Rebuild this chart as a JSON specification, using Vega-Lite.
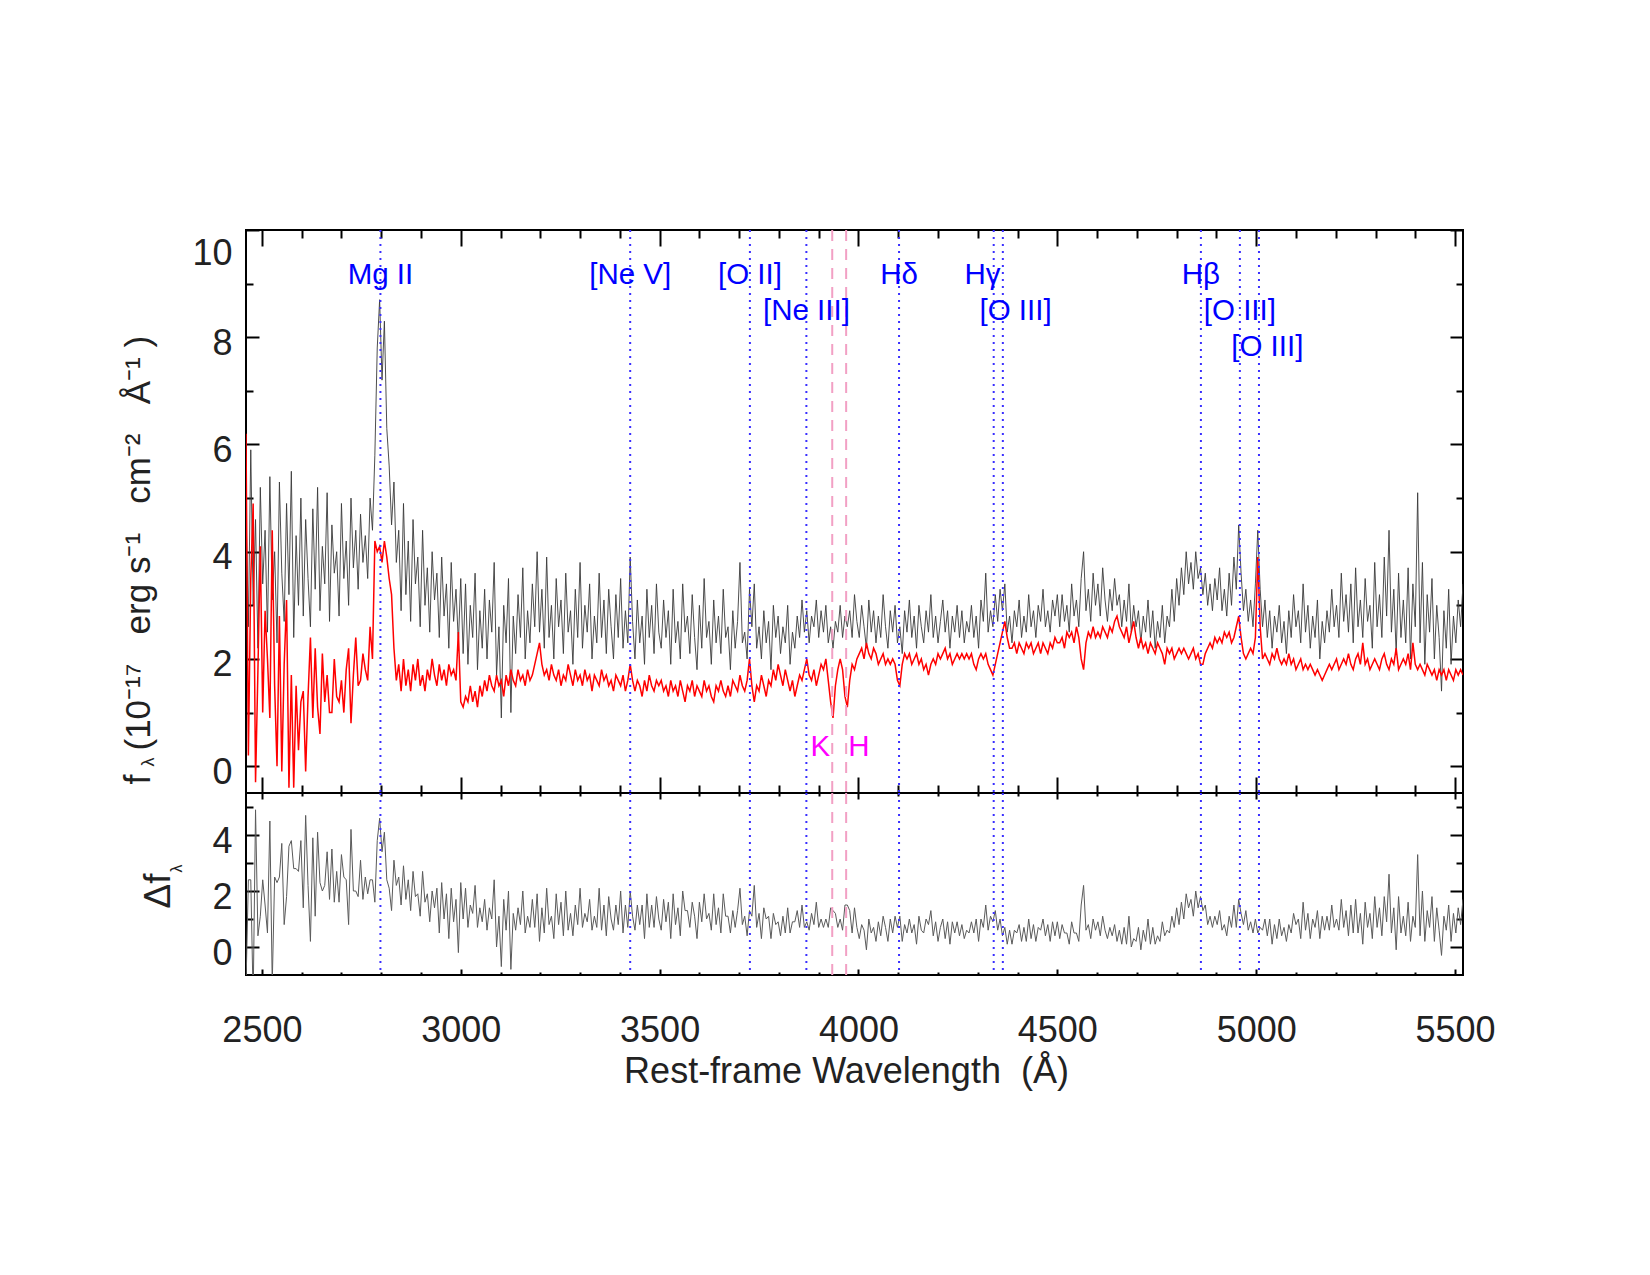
{
"$schema": "https://vega.github.io/schema/vega-lite/v6.json",
"autosize": {"type": "none"},
"padding": {"left": 246, "top": 230, "right": 187, "bottom": 1045},
"bounds": "flush",
"spacing": 0,
"background": "white",
"config": {
 "font": "Liberation Sans",
 "view": {"stroke": "#000", "strokeWidth": 2},
 "concat": {"spacing": 0},
 "axis": {"domain": false, "grid": false, "tickColor": "#000", "tickWidth": 2, "labelFont": "Liberation Sans", "labelFontSize": 36, "labelColor": "#222", "titleFont": "Liberation Sans", "titleFontWeight": "normal", "titleColor": "#222", "labelOverlap": false, "labelBound": false, "labelFlush": false, "format": "d"}
},
"datasets": {
"lines": [
{"n":"Mg II","w":2798,"lx":2798,"ly":8.99},
{"n":"[Ne V]","w":3426,"lx":3426,"ly":8.99},
{"n":"[O II]","w":3727,"lx":3727,"ly":8.99},
{"n":"[Ne III]","w":3869,"lx":3869,"ly":8.32},
{"n":"Hδ","w":4102,"lx":4102,"ly":8.99},
{"n":"Hγ","w":4340,"lx":4312,"ly":8.99},
{"n":"[O III]","w":4363,"lx":4395,"ly":8.32},
{"n":"Hβ","w":4861,"lx":4861,"ly":8.99},
{"n":"[O III]","w":4959,"lx":4959,"ly":8.32},
{"n":"[O III]","w":5007,"lx":5028,"ly":7.655}
],
"kh": [{"n":"K","w":3934,"ly":0.19},{"n":"H","w":3969,"ly":0.19}],
"spec": [
{"w":2460,"f":4.8,"m":6.2,"r":-1.4},{"w":2466,"f":2.6,"m":0.2,"r":2.4},{"w":2472,"f":5.9,"m":3.5,"r":2.4},{"w":2478,"f":3.0,"m":4.9,"r":-1.9},{"w":2484,"f":4.6,"m":-0.3,"r":4.9},{"w":2490,"f":2.2,"m":1.8,"r":0.4},{"w":2496,"f":5.2,"m":4.1,"r":1.1},{"w":2502,"f":3.4,"m":1.0,"r":2.4},{"w":2508,"f":4.4,"m":2.9,"r":1.5},{"w":2514,"f":2.5,"m":2.0,"r":0.5},
{"w":2520,"f":5.4,"m":0.9,"r":4.5},{"w":2526,"f":3.1,"m":4.4,"r":-1.3},{"w":2532,"f":4.0,"m":1.5,"r":2.5},{"w":2538,"f":2.3,"m":0.0,"r":2.3},{"w":2544,"f":5.3,"m":2.8,"r":2.5},{"w":2550,"f":3.6,"m":-0.1,"r":3.7},{"w":2556,"f":2.7,"m":1.9,"r":0.8},{"w":2562,"f":4.9,"m":3.1,"r":1.8},{"w":2568,"f":3.2,"m":-0.4,"r":3.6},{"w":2574,"f":5.5,"m":1.7,"r":3.8},
{"w":2580,"f":2.4,"m":-0.4,"r":2.8},{"w":2586,"f":4.3,"m":1.5,"r":2.8},{"w":2592,"f":3.0,"m":0.3,"r":2.7},{"w":2598,"f":5.0,"m":1.2,"r":3.8},{"w":2604,"f":2.8,"m":1.4,"r":1.4},{"w":2610,"f":4.6,"m":-0.1,"r":4.7},{"w":2616,"f":3.5,"m":1.3,"r":2.2},{"w":2622,"f":2.6,"m":2.4,"r":0.2},{"w":2628,"f":4.8,"m":0.9,"r":3.9},{"w":2634,"f":3.3,"m":2.2,"r":1.1},
{"w":2640,"f":5.2,"m":1.1,"r":4.1},{"w":2646,"f":2.9,"m":0.6,"r":2.3},{"w":2652,"f":4.1,"m":2.1,"r":2.0},{"w":2658,"f":3.4,"m":1.2,"r":2.2},{"w":2664,"f":5.1,"m":1.7,"r":3.4},{"w":2670,"f":2.7,"m":1.0,"r":1.7},{"w":2676,"f":4.5,"m":1.0,"r":3.5},{"w":2682,"f":3.6,"m":2.0,"r":1.6},{"w":2688,"f":4.0,"m":1.3,"r":2.7},{"w":2694,"f":2.8,"m":1.2,"r":1.6},
{"w":2700,"f":4.9,"m":1.6,"r":3.3},{"w":2706,"f":3.5,"m":1.0,"r":2.5},{"w":2712,"f":4.2,"m":1.8,"r":2.4},{"w":2718,"f":3.0,"m":2.2,"r":0.8},{"w":2724,"f":5.0,"m":0.8,"r":4.2},{"w":2730,"f":3.7,"m":1.7,"r":2.0},{"w":2736,"f":4.4,"m":2.4,"r":2.0},{"w":2742,"f":3.3,"m":1.5,"r":1.8},{"w":2748,"f":4.7,"m":1.6,"r":3.1},{"w":2754,"f":3.8,"m":2.1,"r":1.7},
{"w":2760,"f":4.3,"m":1.8,"r":2.5},{"w":2766,"f":3.5,"m":1.6,"r":1.9},{"w":2772,"f":5.0,"m":2.6,"r":2.4},{"w":2778,"f":4.4,"m":2.0,"r":2.4},{"w":2784,"f":5.8,"m":4.2,"r":1.6},{"w":2790,"f":7.8,"m":4.0,"r":3.8},{"w":2796,"f":8.7,"m":4.1,"r":4.6},{"w":2802,"f":7.2,"m":3.8,"r":3.4},{"w":2808,"f":8.3,"m":4.2,"r":4.1},{"w":2814,"f":6.3,"m":3.9,"r":2.4},
{"w":2820,"f":5.6,"m":3.5,"r":2.1},{"w":2826,"f":4.5,"m":3.2,"r":1.3},{"w":2832,"f":5.3,"m":2.2,"r":3.1},{"w":2838,"f":3.8,"m":1.6,"r":2.2},{"w":2844,"f":4.4,"m":1.9,"r":2.5},{"w":2850,"f":2.9,"m":1.4,"r":1.5},{"w":2856,"f":4.9,"m":2.0,"r":2.9},{"w":2862,"f":3.2,"m":1.5,"r":1.7},{"w":2868,"f":4.2,"m":1.8,"r":2.4},{"w":2874,"f":2.7,"m":1.4,"r":1.3},
{"w":2880,"f":4.6,"m":1.9,"r":2.7},{"w":2886,"f":3.4,"m":1.6,"r":1.8},{"w":2892,"f":3.9,"m":2.0,"r":1.9},{"w":2898,"f":2.6,"m":1.5,"r":1.1},{"w":2904,"f":4.4,"m":1.7,"r":2.7},{"w":2910,"f":3.0,"m":1.4,"r":1.6},{"w":2916,"f":3.7,"m":1.8,"r":1.9},{"w":2922,"f":2.5,"m":1.6,"r":0.9},{"w":2928,"f":4.0,"m":2.0,"r":2.0},{"w":2934,"f":3.1,"m":1.7,"r":1.4},
{"w":2940,"f":3.6,"m":1.5,"r":2.1},{"w":2946,"f":2.4,"m":1.9,"r":0.5},{"w":2952,"f":3.9,"m":1.6,"r":2.3},{"w":2958,"f":2.8,"m":1.8,"r":1.0},{"w":2964,"f":3.4,"m":1.5,"r":1.9},{"w":2970,"f":2.2,"m":1.9,"r":0.3},{"w":2976,"f":3.8,"m":1.7,"r":2.1},{"w":2982,"f":2.7,"m":1.8,"r":0.9},{"w":2988,"f":3.3,"m":1.6,"r":1.7},{"w":2994,"f":2.3,"m":2.5,"r":-0.2},
{"w":3000,"f":3.5,"m":1.2,"r":2.3},{"w":3006,"f":2.1,"m":1.1,"r":1.0},{"w":3012,"f":3.4,"m":1.3,"r":2.1},{"w":3018,"f":1.9,"m":1.2,"r":0.7},{"w":3024,"f":3.0,"m":1.5,"r":1.5},{"w":3030,"f":2.4,"m":1.2,"r":1.2},{"w":3036,"f":3.6,"m":1.4,"r":2.2},{"w":3042,"f":1.8,"m":1.1,"r":0.7},{"w":3048,"f":2.9,"m":1.5,"r":1.4},{"w":3054,"f":2.2,"m":1.3,"r":0.9},
{"w":3060,"f":3.3,"m":1.6,"r":1.7},{"w":3066,"f":2.0,"m":1.4,"r":0.6},{"w":3072,"f":3.1,"m":1.7,"r":1.4},{"w":3078,"f":2.5,"m":1.5,"r":1.0},{"w":3084,"f":3.8,"m":1.4,"r":2.4},{"w":3090,"f":1.7,"m":1.7,"r":0.0},{"w":3096,"f":2.6,"m":1.5,"r":1.1},{"w":3102,"f":0.9,"m":1.6,"r":-0.7},{"w":3108,"f":3.0,"m":1.3,"r":1.7},{"w":3114,"f":2.3,"m":1.7,"r":0.6},
{"w":3120,"f":3.5,"m":1.5,"r":2.0},{"w":3126,"f":1.0,"m":1.8,"r":-0.8},{"w":3132,"f":2.8,"m":1.6,"r":1.2},{"w":3138,"f":2.1,"m":1.5,"r":0.6},{"w":3144,"f":3.2,"m":1.8,"r":1.4},{"w":3150,"f":2.4,"m":1.6,"r":0.8},{"w":3156,"f":3.7,"m":1.7,"r":2.0},{"w":3162,"f":2.0,"m":1.5,"r":0.5},{"w":3168,"f":2.9,"m":1.8,"r":1.1},{"w":3174,"f":2.3,"m":1.6,"r":0.7},
{"w":3180,"f":3.4,"m":1.7,"r":1.7},{"w":3186,"f":2.6,"m":1.9,"r":0.7},{"w":3192,"f":4.0,"m":2.1,"r":1.9},{"w":3198,"f":2.5,"m":2.3,"r":0.2},{"w":3204,"f":3.3,"m":1.9,"r":1.4},{"w":3210,"f":2.2,"m":1.7,"r":0.5},{"w":3216,"f":3.9,"m":1.8,"r":2.1},{"w":3222,"f":2.4,"m":1.6,"r":0.8},{"w":3228,"f":3.0,"m":1.9,"r":1.1},{"w":3234,"f":2.0,"m":1.7,"r":0.3},
{"w":3240,"f":3.5,"m":1.6,"r":1.9},{"w":3246,"f":2.6,"m":1.8,"r":0.8},{"w":3252,"f":3.1,"m":1.5,"r":1.6},{"w":3258,"f":2.1,"m":1.7,"r":0.4},{"w":3264,"f":3.6,"m":1.6,"r":2.0},{"w":3270,"f":2.5,"m":1.9,"r":0.6},{"w":3276,"f":2.9,"m":1.7,"r":1.2},{"w":3282,"f":1.9,"m":1.5,"r":0.4},{"w":3288,"f":3.3,"m":1.8,"r":1.5},{"w":3294,"f":2.4,"m":1.6,"r":0.8},
{"w":3300,"f":3.8,"m":1.7,"r":2.1},{"w":3306,"f":2.2,"m":1.5,"r":0.7},{"w":3312,"f":3.0,"m":1.8,"r":1.2},{"w":3318,"f":2.5,"m":1.6,"r":0.9},{"w":3324,"f":3.4,"m":1.7,"r":1.7},{"w":3330,"f":2.0,"m":1.4,"r":0.6},{"w":3336,"f":2.8,"m":1.7,"r":1.1},{"w":3342,"f":2.3,"m":1.6,"r":0.7},{"w":3348,"f":3.6,"m":1.5,"r":2.1},{"w":3354,"f":2.4,"m":1.8,"r":0.6},
{"w":3360,"f":3.1,"m":1.6,"r":1.5},{"w":3366,"f":2.1,"m":1.7,"r":0.4},{"w":3372,"f":3.3,"m":1.5,"r":1.8},{"w":3378,"f":2.6,"m":1.6,"r":1.0},{"w":3384,"f":2.0,"m":1.4,"r":0.6},{"w":3390,"f":3.2,"m":1.7,"r":1.5},{"w":3396,"f":2.4,"m":1.6,"r":0.8},{"w":3402,"f":3.5,"m":1.5,"r":2.0},{"w":3408,"f":2.2,"m":1.7,"r":0.5},{"w":3414,"f":2.9,"m":1.4,"r":1.5},
{"w":3420,"f":2.3,"m":1.6,"r":0.7},{"w":3426,"f":3.9,"m":1.9,"r":2.0},{"w":3432,"f":2.7,"m":1.6,"r":1.1},{"w":3438,"f":2.0,"m":1.4,"r":0.6},{"w":3444,"f":3.1,"m":1.6,"r":1.5},{"w":3450,"f":2.3,"m":1.5,"r":0.8},{"w":3456,"f":2.8,"m":1.3,"r":1.5},{"w":3462,"f":1.9,"m":1.6,"r":0.3},{"w":3468,"f":3.3,"m":1.4,"r":1.9},{"w":3474,"f":2.4,"m":1.7,"r":0.7},
{"w":3480,"f":3.0,"m":1.5,"r":1.5},{"w":3486,"f":2.1,"m":1.4,"r":0.7},{"w":3492,"f":3.4,"m":1.6,"r":1.8},{"w":3498,"f":2.5,"m":1.5,"r":1.0},{"w":3504,"f":2.2,"m":1.6,"r":0.6},{"w":3510,"f":3.1,"m":1.4,"r":1.7},{"w":3516,"f":2.4,"m":1.5,"r":0.9},{"w":3522,"f":2.9,"m":1.3,"r":1.6},{"w":3528,"f":1.9,"m":1.6,"r":0.3},{"w":3534,"f":3.3,"m":1.4,"r":1.9},
{"w":3540,"f":2.3,"m":1.5,"r":0.8},{"w":3546,"f":2.7,"m":1.3,"r":1.4},{"w":3552,"f":2.0,"m":1.6,"r":0.4},{"w":3558,"f":3.4,"m":1.4,"r":2.0},{"w":3564,"f":2.5,"m":1.2,"r":1.3},{"w":3570,"f":2.8,"m":1.5,"r":1.3},{"w":3576,"f":2.1,"m":1.4,"r":0.7},{"w":3582,"f":3.2,"m":1.6,"r":1.6},{"w":3588,"f":2.4,"m":1.3,"r":1.1},{"w":3594,"f":1.8,"m":1.5,"r":0.3},
{"w":3600,"f":3.0,"m":1.4,"r":1.6},{"w":3606,"f":2.2,"m":1.3,"r":0.9},{"w":3612,"f":3.5,"m":1.6,"r":1.9},{"w":3618,"f":2.4,"m":1.4,"r":1.0},{"w":3624,"f":2.7,"m":1.5,"r":1.2},{"w":3630,"f":1.9,"m":1.3,"r":0.6},{"w":3636,"f":3.1,"m":1.2,"r":1.9},{"w":3642,"f":2.3,"m":1.5,"r":0.8},{"w":3648,"f":2.8,"m":1.4,"r":1.4},{"w":3654,"f":2.1,"m":1.6,"r":0.5},
{"w":3660,"f":3.3,"m":1.4,"r":1.9},{"w":3666,"f":2.4,"m":1.3,"r":1.1},{"w":3672,"f":2.6,"m":1.5,"r":1.1},{"w":3678,"f":1.8,"m":1.3,"r":0.5},{"w":3684,"f":2.9,"m":1.6,"r":1.3},{"w":3690,"f":2.2,"m":1.5,"r":0.7},{"w":3696,"f":2.7,"m":1.4,"r":1.3},{"w":3702,"f":3.8,"m":1.7,"r":2.1},{"w":3708,"f":2.3,"m":1.5,"r":0.8},{"w":3714,"f":2.5,"m":1.4,"r":1.1},
{"w":3720,"f":2.0,"m":1.6,"r":0.4},{"w":3726,"f":3.3,"m":2.0,"r":1.3},{"w":3732,"f":2.6,"m":1.5,"r":1.1},{"w":3738,"f":3.4,"m":1.2,"r":2.2},{"w":3744,"f":2.2,"m":1.5,"r":0.7},{"w":3750,"f":2.6,"m":1.4,"r":1.2},{"w":3756,"f":2.0,"m":1.7,"r":0.3},{"w":3762,"f":2.9,"m":1.5,"r":1.4},{"w":3768,"f":2.3,"m":1.3,"r":1.0},{"w":3774,"f":2.7,"m":1.6,"r":1.1},
{"w":3780,"f":1.8,"m":1.5,"r":0.3},{"w":3786,"f":3.0,"m":1.8,"r":1.2},{"w":3792,"f":2.4,"m":1.6,"r":0.8},{"w":3798,"f":2.8,"m":1.9,"r":0.9},{"w":3804,"f":2.1,"m":1.7,"r":0.4},{"w":3810,"f":2.6,"m":1.5,"r":1.1},{"w":3816,"f":2.3,"m":1.8,"r":0.5},{"w":3822,"f":3.0,"m":1.6,"r":1.4},{"w":3828,"f":1.9,"m":1.4,"r":0.5},{"w":3834,"f":2.5,"m":1.6,"r":0.9},
{"w":3840,"f":2.2,"m":1.3,"r":0.9},{"w":3846,"f":2.8,"m":1.5,"r":1.3},{"w":3852,"f":2.4,"m":1.7,"r":0.7},{"w":3858,"f":3.1,"m":1.6,"r":1.5},{"w":3864,"f":2.5,"m":1.8,"r":0.7},{"w":3870,"f":2.9,"m":2.0,"r":0.9},{"w":3876,"f":2.3,"m":1.7,"r":0.6},{"w":3882,"f":2.8,"m":1.6,"r":1.2},{"w":3888,"f":2.6,"m":1.8,"r":0.8},{"w":3894,"f":3.1,"m":1.5,"r":1.6},
{"w":3900,"f":2.4,"m":1.7,"r":0.7},{"w":3906,"f":2.9,"m":1.9,"r":1.0},{"w":3912,"f":2.5,"m":1.8,"r":0.7},{"w":3918,"f":3.0,"m":2.0,"r":1.0},{"w":3924,"f":2.3,"m":1.6,"r":0.7},{"w":3930,"f":2.6,"m":1.2,"r":1.4},{"w":3936,"f":2.2,"m":0.9,"r":1.3},{"w":3942,"f":2.7,"m":1.5,"r":1.2},{"w":3948,"f":2.5,"m":1.8,"r":0.7},{"w":3954,"f":3.0,"m":2.0,"r":1.0},
{"w":3960,"f":2.4,"m":1.8,"r":0.6},{"w":3966,"f":2.8,"m":1.3,"r":1.5},{"w":3972,"f":2.6,"m":1.1,"r":1.5},{"w":3978,"f":2.9,"m":1.6,"r":1.3},{"w":3984,"f":2.4,"m":1.9,"r":0.5},{"w":3990,"f":3.2,"m":1.8,"r":1.4},{"w":3996,"f":2.7,"m":2.0,"r":0.7},{"w":4002,"f":2.4,"m":2.1,"r":0.3},{"w":4008,"f":3.0,"m":2.2,"r":0.8},{"w":4014,"f":2.6,"m":2.0,"r":0.6},
{"w":4020,"f":2.2,"m":2.3,"r":-0.1},{"w":4026,"f":3.1,"m":2.1,"r":1.0},{"w":4032,"f":2.5,"m":2.0,"r":0.5},{"w":4038,"f":2.9,"m":2.2,"r":0.7},{"w":4044,"f":2.3,"m":2.1,"r":0.2},{"w":4050,"f":2.8,"m":1.9,"r":0.9},{"w":4056,"f":2.4,"m":2.0,"r":0.4},{"w":4062,"f":3.2,"m":2.1,"r":1.1},{"w":4068,"f":2.6,"m":1.9,"r":0.7},{"w":4074,"f":2.2,"m":2.0,"r":0.2},
{"w":4080,"f":2.9,"m":1.9,"r":1.0},{"w":4086,"f":2.5,"m":2.0,"r":0.5},{"w":4092,"f":3.0,"m":1.9,"r":1.1},{"w":4098,"f":2.3,"m":1.6,"r":0.7},{"w":4104,"f":2.6,"m":1.5,"r":1.1},{"w":4110,"f":2.1,"m":1.9,"r":0.2},{"w":4116,"f":2.9,"m":2.1,"r":0.8},{"w":4122,"f":2.5,"m":2.0,"r":0.5},{"w":4128,"f":3.1,"m":2.1,"r":1.0},{"w":4134,"f":2.4,"m":1.9,"r":0.5},
{"w":4140,"f":2.8,"m":2.0,"r":0.8},{"w":4146,"f":2.2,"m":2.1,"r":0.1},{"w":4152,"f":3.0,"m":1.9,"r":1.1},{"w":4158,"f":2.6,"m":2.0,"r":0.6},{"w":4164,"f":2.3,"m":1.8,"r":0.5},{"w":4170,"f":2.9,"m":1.9,"r":1.0},{"w":4176,"f":2.5,"m":1.7,"r":0.8},{"w":4182,"f":3.2,"m":1.9,"r":1.3},{"w":4188,"f":2.4,"m":2.0,"r":0.4},{"w":4194,"f":2.8,"m":1.9,"r":0.9},
{"w":4200,"f":2.3,"m":2.1,"r":0.2},{"w":4206,"f":2.7,"m":2.0,"r":0.7},{"w":4212,"f":3.1,"m":2.1,"r":1.0},{"w":4218,"f":2.5,"m":2.2,"r":0.3},{"w":4224,"f":2.9,"m":2.0,"r":0.9},{"w":4230,"f":2.2,"m":2.1,"r":0.1},{"w":4236,"f":2.8,"m":1.9,"r":0.9},{"w":4242,"f":2.5,"m":2.0,"r":0.5},{"w":4248,"f":3.0,"m":2.1,"r":0.9},{"w":4254,"f":2.4,"m":2.0,"r":0.4},
{"w":4260,"f":2.9,"m":2.1,"r":0.8},{"w":4266,"f":2.3,"m":2.0,"r":0.3},{"w":4272,"f":2.7,"m":2.1,"r":0.6},{"w":4278,"f":2.5,"m":2.0,"r":0.5},{"w":4284,"f":3.0,"m":2.1,"r":0.9},{"w":4290,"f":2.4,"m":1.9,"r":0.5},{"w":4296,"f":2.8,"m":1.8,"r":1.0},{"w":4302,"f":2.2,"m":2.0,"r":0.2},{"w":4308,"f":3.1,"m":2.1,"r":1.0},{"w":4314,"f":2.7,"m":2.0,"r":0.7},
{"w":4320,"f":3.6,"m":2.1,"r":1.5},{"w":4326,"f":2.5,"m":1.9,"r":0.6},{"w":4332,"f":2.9,"m":1.8,"r":1.1},{"w":4338,"f":2.6,"m":1.7,"r":0.9},{"w":4344,"f":3.2,"m":1.9,"r":1.3},{"w":4350,"f":2.7,"m":2.1,"r":0.6},{"w":4356,"f":3.3,"m":2.3,"r":1.0},{"w":4362,"f":2.9,"m":2.5,"r":0.4},{"w":4368,"f":3.4,"m":2.7,"r":0.7},{"w":4374,"f":2.5,"m":2.4,"r":0.1},
{"w":4380,"f":2.8,"m":2.2,"r":0.6},{"w":4386,"f":2.3,"m":2.2,"r":0.1},{"w":4392,"f":2.9,"m":2.3,"r":0.6},{"w":4398,"f":2.6,"m":2.1,"r":0.5},{"w":4404,"f":3.1,"m":2.3,"r":0.8},{"w":4410,"f":2.4,"m":2.2,"r":0.2},{"w":4416,"f":2.8,"m":2.1,"r":0.7},{"w":4422,"f":2.5,"m":2.3,"r":0.2},{"w":4428,"f":3.2,"m":2.2,"r":1.0},{"w":4434,"f":2.6,"m":2.3,"r":0.3},
{"w":4440,"f":2.9,"m":2.1,"r":0.8},{"w":4446,"f":2.4,"m":2.2,"r":0.2},{"w":4452,"f":3.0,"m":2.3,"r":0.7},{"w":4458,"f":2.7,"m":2.1,"r":0.6},{"w":4464,"f":3.3,"m":2.3,"r":1.0},{"w":4470,"f":2.6,"m":2.2,"r":0.4},{"w":4476,"f":2.9,"m":2.1,"r":0.8},{"w":4482,"f":2.5,"m":2.3,"r":0.2},{"w":4488,"f":3.1,"m":2.2,"r":0.9},{"w":4494,"f":2.8,"m":2.4,"r":0.4},
{"w":4500,"f":3.2,"m":2.3,"r":0.9},{"w":4506,"f":2.6,"m":2.3,"r":0.3},{"w":4512,"f":3.2,"m":2.4,"r":0.8},{"w":4518,"f":2.7,"m":2.2,"r":0.5},{"w":4524,"f":3.0,"m":2.5,"r":0.5},{"w":4530,"f":2.5,"m":2.4,"r":0.1},{"w":4536,"f":3.4,"m":2.5,"r":0.9},{"w":4542,"f":2.8,"m":2.3,"r":0.5},{"w":4548,"f":3.1,"m":2.6,"r":0.5},{"w":4554,"f":2.6,"m":2.4,"r":0.2},
{"w":4560,"f":3.5,"m":2.0,"r":1.5},{"w":4566,"f":4.0,"m":1.8,"r":2.2},{"w":4572,"f":2.9,"m":2.3,"r":0.6},{"w":4578,"f":3.3,"m":2.5,"r":0.8},{"w":4584,"f":2.7,"m":2.4,"r":0.3},{"w":4590,"f":3.6,"m":2.6,"r":1.0},{"w":4596,"f":3.0,"m":2.4,"r":0.6},{"w":4602,"f":3.4,"m":2.5,"r":0.9},{"w":4608,"f":2.8,"m":2.4,"r":0.4},{"w":4614,"f":3.7,"m":2.6,"r":1.1},
{"w":4620,"f":3.1,"m":2.5,"r":0.6},{"w":4626,"f":2.7,"m":2.4,"r":0.3},{"w":4632,"f":3.3,"m":2.6,"r":0.7},{"w":4638,"f":2.9,"m":2.5,"r":0.4},{"w":4644,"f":3.5,"m":2.7,"r":0.8},{"w":4650,"f":3.0,"m":2.8,"r":0.2},{"w":4656,"f":3.2,"m":2.6,"r":0.6},{"w":4662,"f":2.6,"m":2.5,"r":0.1},{"w":4668,"f":3.1,"m":2.4,"r":0.7},{"w":4674,"f":2.7,"m":2.6,"r":0.1},
{"w":4680,"f":3.4,"m":2.3,"r":1.1},{"w":4686,"f":2.5,"m":2.5,"r":0.0},{"w":4692,"f":3.0,"m":2.7,"r":0.3},{"w":4698,"f":2.6,"m":2.4,"r":0.2},{"w":4704,"f":2.9,"m":2.2,"r":0.7},{"w":4710,"f":2.3,"m":2.4,"r":-0.1},{"w":4716,"f":2.8,"m":2.2,"r":0.6},{"w":4722,"f":2.5,"m":2.3,"r":0.2},{"w":4728,"f":3.1,"m":2.1,"r":1.0},{"w":4734,"f":2.4,"m":2.3,"r":0.1},
{"w":4740,"f":2.9,"m":2.2,"r":0.7},{"w":4746,"f":2.2,"m":2.1,"r":0.1},{"w":4752,"f":2.7,"m":2.3,"r":0.4},{"w":4758,"f":2.4,"m":2.2,"r":0.2},{"w":4764,"f":3.0,"m":2.1,"r":0.9},{"w":4770,"f":2.3,"m":1.9,"r":0.4},{"w":4776,"f":2.8,"m":2.2,"r":0.6},{"w":4782,"f":2.6,"m":2.1,"r":0.5},{"w":4788,"f":3.3,"m":2.2,"r":1.1},{"w":4794,"f":2.7,"m":2.0,"r":0.7},
{"w":4800,"f":3.5,"m":2.1,"r":1.4},{"w":4806,"f":3.0,"m":2.2,"r":0.8},{"w":4812,"f":3.7,"m":2.1,"r":1.6},{"w":4818,"f":3.2,"m":2.2,"r":1.0},{"w":4824,"f":4.0,"m":2.1,"r":1.9},{"w":4830,"f":3.4,"m":2.0,"r":1.4},{"w":4836,"f":3.8,"m":2.1,"r":1.7},{"w":4842,"f":3.3,"m":2.2,"r":1.1},{"w":4848,"f":4.0,"m":2.0,"r":2.0},{"w":4854,"f":3.5,"m":2.1,"r":1.4},
{"w":4860,"f":3.7,"m":1.9,"r":1.8},{"w":4866,"f":3.2,"m":1.9,"r":1.3},{"w":4872,"f":3.6,"m":2.1,"r":1.5},{"w":4878,"f":3.0,"m":2.2,"r":0.8},{"w":4884,"f":3.4,"m":2.3,"r":1.1},{"w":4890,"f":2.9,"m":2.2,"r":0.7},{"w":4896,"f":3.5,"m":2.4,"r":1.1},{"w":4902,"f":3.1,"m":2.3,"r":0.8},{"w":4908,"f":3.7,"m":2.4,"r":1.3},{"w":4914,"f":2.9,"m":2.3,"r":0.6},
{"w":4920,"f":3.3,"m":2.5,"r":0.8},{"w":4926,"f":2.8,"m":2.4,"r":0.4},{"w":4932,"f":3.6,"m":2.5,"r":1.1},{"w":4938,"f":3.0,"m":2.3,"r":0.7},{"w":4944,"f":3.9,"m":2.4,"r":1.5},{"w":4950,"f":3.3,"m":2.6,"r":0.7},{"w":4956,"f":4.5,"m":2.8,"r":1.7},{"w":4962,"f":3.6,"m":2.4,"r":1.2},{"w":4968,"f":2.9,"m":2.1,"r":0.8},{"w":4974,"f":3.3,"m":2.0,"r":1.3},
{"w":4980,"f":2.7,"m":2.1,"r":0.6},{"w":4986,"f":3.1,"m":2.2,"r":0.9},{"w":4992,"f":2.6,"m":2.1,"r":0.5},{"w":4998,"f":3.4,"m":2.4,"r":1.0},{"w":5004,"f":4.4,"m":3.9,"r":0.5},{"w":5010,"f":3.3,"m":2.6,"r":0.7},{"w":5016,"f":2.6,"m":2.0,"r":0.6},{"w":5022,"f":3.1,"m":2.1,"r":1.0},{"w":5028,"f":2.4,"m":2.0,"r":0.4},{"w":5034,"f":2.9,"m":1.9,"r":1.0},
{"w":5040,"f":2.2,"m":2.1,"r":0.1},{"w":5046,"f":2.8,"m":2.0,"r":0.8},{"w":5052,"f":2.5,"m":2.2,"r":0.3},{"w":5058,"f":3.0,"m":2.0,"r":1.0},{"w":5064,"f":2.3,"m":1.9,"r":0.4},{"w":5070,"f":2.7,"m":2.0,"r":0.7},{"w":5076,"f":2.1,"m":1.9,"r":0.2},{"w":5082,"f":2.9,"m":2.1,"r":0.8},{"w":5088,"f":2.4,"m":1.9,"r":0.5},{"w":5094,"f":3.2,"m":2.0,"r":1.2},
{"w":5100,"f":2.6,"m":1.8,"r":0.8},{"w":5106,"f":2.9,"m":1.9,"r":1.0},{"w":5112,"f":2.3,"m":2.0,"r":0.3},{"w":5118,"f":3.4,"m":1.8,"r":1.6},{"w":5124,"f":2.5,"m":1.9,"r":0.6},{"w":5130,"f":3.0,"m":1.8,"r":1.2},{"w":5136,"f":2.2,"m":1.9,"r":0.3},{"w":5142,"f":2.8,"m":1.8,"r":1.0},{"w":5148,"f":2.4,"m":1.7,"r":0.7},{"w":5154,"f":3.1,"m":1.8,"r":1.3},
{"w":5160,"f":2.0,"m":1.7,"r":0.3},{"w":5166,"f":2.7,"m":1.6,"r":1.1},{"w":5172,"f":2.3,"m":1.7,"r":0.6},{"w":5178,"f":2.9,"m":1.8,"r":1.1},{"w":5184,"f":2.5,"m":1.9,"r":0.6},{"w":5190,"f":3.3,"m":1.8,"r":1.5},{"w":5196,"f":2.6,"m":1.9,"r":0.7},{"w":5202,"f":3.0,"m":2.0,"r":1.0},{"w":5208,"f":2.4,"m":1.8,"r":0.6},{"w":5214,"f":3.6,"m":1.9,"r":1.7},
{"w":5220,"f":2.7,"m":2.0,"r":0.7},{"w":5226,"f":3.2,"m":1.9,"r":1.3},{"w":5232,"f":2.5,"m":2.1,"r":0.4},{"w":5238,"f":3.4,"m":1.9,"r":1.5},{"w":5244,"f":2.3,"m":1.8,"r":0.5},{"w":5250,"f":3.7,"m":2.0,"r":1.7},{"w":5256,"f":2.6,"m":2.1,"r":0.5},{"w":5262,"f":3.1,"m":1.9,"r":1.2},{"w":5268,"f":2.4,"m":2.3,"r":0.1},{"w":5274,"f":3.5,"m":1.9,"r":1.6},
{"w":5280,"f":2.7,"m":2.0,"r":0.7},{"w":5286,"f":3.0,"m":1.8,"r":1.2},{"w":5292,"f":2.2,"m":1.9,"r":0.3},{"w":5298,"f":3.8,"m":2.0,"r":1.8},{"w":5304,"f":2.6,"m":1.9,"r":0.7},{"w":5310,"f":3.2,"m":1.8,"r":1.4},{"w":5316,"f":2.4,"m":2.0,"r":0.4},{"w":5322,"f":3.9,"m":2.1,"r":1.8},{"w":5328,"f":2.8,"m":1.9,"r":0.9},{"w":5334,"f":4.4,"m":1.8,"r":2.6},
{"w":5340,"f":2.5,"m":2.0,"r":0.5},{"w":5346,"f":3.3,"m":1.9,"r":1.4},{"w":5352,"f":2.1,"m":2.2,"r":-0.1},{"w":5358,"f":3.6,"m":1.8,"r":1.8},{"w":5364,"f":2.4,"m":1.9,"r":0.5},{"w":5370,"f":3.1,"m":2.0,"r":1.1},{"w":5376,"f":2.3,"m":1.9,"r":0.4},{"w":5382,"f":3.7,"m":2.1,"r":1.6},{"w":5388,"f":2.0,"m":1.8,"r":0.2},{"w":5394,"f":3.4,"m":2.3,"r":1.1},
{"w":5400,"f":2.6,"m":1.9,"r":0.7},{"w":5406,"f":5.1,"m":1.8,"r":3.3},{"w":5412,"f":2.3,"m":1.9,"r":0.4},{"w":5418,"f":3.8,"m":1.8,"r":2.0},{"w":5424,"f":1.9,"m":1.7,"r":0.2},{"w":5430,"f":3.2,"m":1.9,"r":1.3},{"w":5436,"f":2.5,"m":1.8,"r":0.7},{"w":5442,"f":3.5,"m":1.7,"r":1.8},{"w":5448,"f":2.0,"m":1.8,"r":0.2},{"w":5454,"f":3.0,"m":1.6,"r":1.4},
{"w":5460,"f":2.4,"m":1.8,"r":0.6},{"w":5466,"f":1.4,"m":1.7,"r":-0.3},{"w":5472,"f":2.9,"m":1.8,"r":1.1},{"w":5478,"f":2.2,"m":1.6,"r":0.6},{"w":5484,"f":3.3,"m":1.8,"r":1.5},{"w":5490,"f":1.9,"m":1.7,"r":0.2},{"w":5496,"f":2.8,"m":1.6,"r":1.2},{"w":5502,"f":2.3,"m":1.8,"r":0.5},{"w":5508,"f":3.1,"m":1.7,"r":1.4},{"w":5514,"f":2.6,"m":1.8,"r":0.8},
{"w":5520,"f":3.4,"m":1.7,"r":1.7}
]
},
"vconcat": [
{
 "width": 1217, "height": 563,
 "layer": [
  {"data": {"name": "spec"},
   "mark": {"type": "line", "color": "#3a3a3a", "strokeWidth": 0.9, "clip": true},
   "encoding": {
    "x": {"field": "w", "type": "quantitative", "scale": {"domain": [2460, 5520], "nice": false, "zero": false},
     "axis": {"orient": "bottom", "values": [2500,2600,2700,2800,2900,3000,3100,3200,3300,3400,3500,3600,3700,3800,3900,4000,4100,4200,4300,4400,4500,4600,4700,4800,4900,5000,5100,5200,5300,5400,5500], "labels": false, "tickSize": {"condition": {"test": "datum.value % 500 === 0", "value": -16}, "value": -8}, "title": null}},
    "y": {"field": "f", "type": "quantitative", "scale": {"domain": [-0.5, 10], "nice": false, "zero": false},
     "axis": {"orient": "left", "values": [0,1,2,3,4,5,6,7,8,9,10], "labelExpr": "datum.value % 2 === 0 ? datum.label : ''", "tickSize": {"condition": {"test": "datum.value % 2 === 0", "value": -13}, "value": -7}, "labelPadding": 27, "labelOffset": 6, "labelBaseline": {"condition": {"test": "datum.value === 10", "value": "top"}, "value": "middle"},
      "title": "(10⁻¹⁷\u00a0\u00a0\u00a0erg s⁻¹\u00a0\u00a0\u00a0cm⁻²\u00a0\u00a0\u00a0Å⁻¹\u00a0)", "titleAngle": 270, "titleAlign": "left", "titleBaseline": "alphabetic", "titleX": -97, "titleY": 520, "titleFontSize": 35}}
   }},
  {"data": {"name": "spec"},
   "mark": {"type": "line", "color": "#ff0000", "strokeWidth": 1.5, "clip": true},
   "encoding": {
    "x": {"field": "w", "type": "quantitative", "scale": {"domain": [2460, 5520], "nice": false, "zero": false},
     "axis": {"orient": "top", "values": [2500,2600,2700,2800,2900,3000,3100,3200,3300,3400,3500,3600,3700,3800,3900,4000,4100,4200,4300,4400,4500,4600,4700,4800,4900,5000,5100,5200,5300,5400,5500], "labels": false, "tickSize": {"condition": {"test": "datum.value % 500 === 0", "value": -16}, "value": -8},
      "title": "f", "titleAngle": 270, "titleAlign": "left", "titleBaseline": "alphabetic", "titleX": -97, "titleY": 554, "titleFontSize": 36}},
    "y": {"field": "m", "type": "quantitative", "scale": {"domain": [-0.5, 10], "nice": false, "zero": false},
     "axis": {"orient": "right", "values": [0,1,2,3,4,5,6,7,8,9,10], "labels": false, "tickSize": {"condition": {"test": "datum.value % 2 === 0", "value": -13}, "value": -7},
      "title": "λ", "titleAngle": 270, "titleAlign": "left", "titleBaseline": "alphabetic", "titleX": -1310, "titleY": 536, "titleFontSize": 18}}
   }},
  {"data": {"name": "lines"},
   "mark": {"type": "rule", "color": "#3a2fff", "strokeWidth": 2, "strokeDash": [2, 5]},
   "encoding": {"x": {"field": "w", "type": "quantitative", "scale": {"domain": [2460, 5520], "nice": false, "zero": false}, "axis": null}}},
  {"data": {"name": "kh"},
   "mark": {"type": "rule", "color": "#f2a0c4", "strokeWidth": 2, "strokeDash": [11, 8]},
   "encoding": {"x": {"field": "w", "type": "quantitative", "scale": {"domain": [2460, 5520], "nice": false, "zero": false}, "axis": null}}},
  {"data": {"name": "lines"},
   "mark": {"type": "text", "color": "#0000ff", "fontSize": 29.5, "align": "center", "baseline": "alphabetic"},
   "encoding": {
    "x": {"field": "lx", "type": "quantitative", "scale": {"domain": [2460, 5520], "nice": false, "zero": false}, "axis": null},
    "y": {"field": "ly", "type": "quantitative", "scale": {"domain": [-0.5, 10], "nice": false, "zero": false}, "axis": null},
    "text": {"field": "n"}}},
  {"data": {"name": "kh"},
   "transform": [{"filter": "datum.n === 'K'"}],
   "mark": {"type": "text", "color": "#ff00ff", "fontSize": 29.5, "align": "right", "dx": -2, "baseline": "alphabetic"},
   "encoding": {
    "x": {"field": "w", "type": "quantitative", "scale": {"domain": [2460, 5520], "nice": false, "zero": false}, "axis": null},
    "y": {"field": "ly", "type": "quantitative", "scale": {"domain": [-0.5, 10], "nice": false, "zero": false}, "axis": null},
    "text": {"field": "n"}}},
  {"data": {"name": "kh"},
   "transform": [{"filter": "datum.n === 'H'"}],
   "mark": {"type": "text", "color": "#ff00ff", "fontSize": 29.5, "align": "left", "dx": 2, "baseline": "alphabetic"},
   "encoding": {
    "x": {"field": "w", "type": "quantitative", "scale": {"domain": [2460, 5520], "nice": false, "zero": false}, "axis": null},
    "y": {"field": "ly", "type": "quantitative", "scale": {"domain": [-0.5, 10], "nice": false, "zero": false}, "axis": null},
    "text": {"field": "n"}}}
 ],
 "resolve": {"axis": {"x": "independent", "y": "independent"}}
},
{
 "width": 1217, "height": 182,
 "layer": [
  {"data": {"name": "spec"},
   "mark": {"type": "line", "color": "#5a5a5a", "strokeWidth": 1, "clip": true},
   "encoding": {
    "x": {"field": "w", "type": "quantitative", "scale": {"domain": [2460, 5520], "nice": false, "zero": false},
     "axis": {"orient": "bottom", "values": [2500,2600,2700,2800,2900,3000,3100,3200,3300,3400,3500,3600,3700,3800,3900,4000,4100,4200,4300,4400,4500,4600,4700,4800,4900,5000,5100,5200,5300,5400,5500], "labelExpr": "datum.value % 500 === 0 ? datum.label : ''", "tickSize": {"condition": {"test": "datum.value % 500 === 0", "value": -6}, "value": -3}, "labelPadding": 44,
      "title": "Rest-frame Wavelength\u00a0\u00a0(Å)", "titleFontSize": 36, "titleX": 600, "titleY": 107, "titleAlign": "center", "titleBaseline": "alphabetic", "titleAngle": 0}},
    "y": {"field": "r", "type": "quantitative", "scale": {"domain": [-1, 5.5], "nice": false, "zero": false},
     "axis": {"orient": "left", "values": [0,1,2,3,4,5], "labelExpr": "datum.value % 2 === 0 ? datum.label : ''", "tickSize": {"condition": {"test": "datum.value % 2 === 0", "value": -13}, "value": -7}, "labelPadding": 27, "labelOffset": 6,
      "title": "Δf", "titleAngle": 270, "titleAlign": "left", "titleBaseline": "alphabetic", "titleX": -77, "titleY": 115, "titleFontSize": 37}}
   }},
  {"data": {"name": "spec"},
   "mark": {"type": "line", "strokeOpacity": 0, "clip": true},
   "encoding": {
    "x": {"field": "w", "type": "quantitative", "scale": {"domain": [2460, 5520], "nice": false, "zero": false},
     "axis": {"orient": "top", "values": [2500,2600,2700,2800,2900,3000,3100,3200,3300,3400,3500,3600,3700,3800,3900,4000,4100,4200,4300,4400,4500,4600,4700,4800,4900,5000,5100,5200,5300,5400,5500], "labels": false, "tickSize": {"condition": {"test": "datum.value % 500 === 0", "value": -6}, "value": -3}, "title": null}},
    "y": {"field": "r", "type": "quantitative", "scale": {"domain": [-1, 5.5], "nice": false, "zero": false},
     "axis": {"orient": "right", "values": [0,1,2,3,4,5], "labels": false, "tickSize": {"condition": {"test": "datum.value % 2 === 0", "value": -13}, "value": -7},
      "title": "λ", "titleAngle": 270, "titleAlign": "left", "titleBaseline": "alphabetic", "titleX": -1282, "titleY": 79, "titleFontSize": 16}}
   }},
  {"data": {"name": "lines"},
   "mark": {"type": "rule", "color": "#3a2fff", "strokeWidth": 2, "strokeDash": [2, 5]},
   "encoding": {"x": {"field": "w", "type": "quantitative", "scale": {"domain": [2460, 5520], "nice": false, "zero": false}, "axis": null}}},
  {"data": {"name": "kh"},
   "mark": {"type": "rule", "color": "#f2a0c4", "strokeWidth": 2, "strokeDash": [11, 8]},
   "encoding": {"x": {"field": "w", "type": "quantitative", "scale": {"domain": [2460, 5520], "nice": false, "zero": false}, "axis": null}}}
 ],
 "resolve": {"axis": {"x": "independent", "y": "independent"}}
}
]
}
